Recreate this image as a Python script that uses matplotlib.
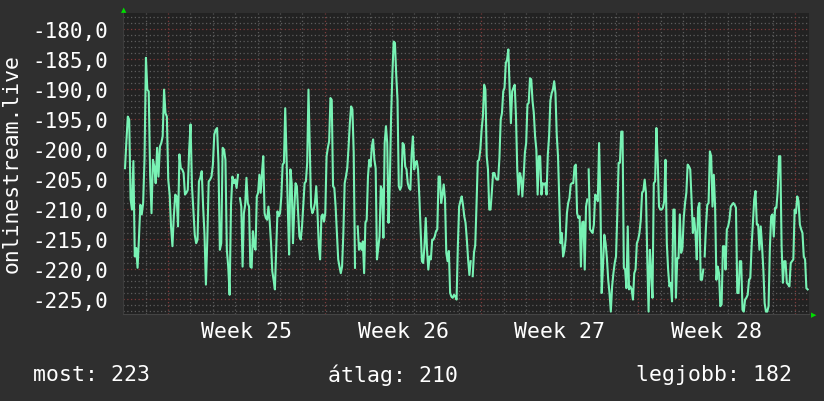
import numpy as np
import matplotlib
matplotlib.use("Agg")
import matplotlib.pyplot as plt
from matplotlib.ticker import FuncFormatter, MultipleLocator

# ---- data (time in days from start of Week 25) ----
seg_times = [(-1.920, 3.126), (3.216, 8.352), (8.473, 13.519),
             (13.609, 18.727), (18.789, 23.908), (23.970, 28.571)]

seg1 = [-203.2, -198.7, -194.6, -195.1, -208.4, -210.1, -202.0, -217.9, -216.5, -219.8, -214.8, -209.3,
        -210.9, -209.0, -201.5, -184.8, -190.1, -190.4, -204.3, -210.7, -201.8, -202.9, -205.7, -199.8,
        -204.6, -199.6, -199.0, -197.9, -190.1, -194.0, -194.6, -205.1, -207.6, -212.9, -216.2, -211.2,
        -207.6, -207.9, -212.9, -200.9, -203.2, -203.4, -204.0, -207.6, -207.3, -206.8, -200.1, -195.9,
        -206.2, -210.1, -214.3, -215.7, -215.1, -205.4, -204.8, -203.7, -209.6, -214.3, -222.6, -215.1,
        -205.4, -205.1, -204.6, -202.6, -197.6, -196.8, -196.5, -202.3, -216.8, -215.7, -199.8, -200.1,
        -201.8, -216.8, -219.6, -224.3, -209.3, -204.6, -205.7, -205.1, -206.5, -204.3]
seg2 = [-208.2, -209.6, -219.6, -210.7, -209.3, -204.8, -209.0, -209.6, -219.6, -219.8, -213.7, -216.2,
        -216.8, -207.9, -207.3, -204.3, -207.3, -204.0, -201.2, -210.7, -211.5, -211.8, -209.6, -212.1,
        -215.7, -220.4, -221.8, -223.4, -216.8, -210.4, -211.2, -210.7, -207.9, -202.6, -202.3, -193.2,
        -201.2, -209.8, -217.6, -203.4, -205.7, -215.7, -210.1, -205.7, -206.2, -210.7, -214.6, -215.1,
        -212.9, -209.3, -205.7, -205.4, -202.3, -190.1, -199.6, -209.6, -210.7, -210.1, -209.0, -206.2,
        -210.7, -216.2, -218.4, -211.2, -210.9, -212.1, -210.7, -201.2, -199.8, -198.7, -191.5, -191.8,
        -206.2, -206.5, -209.6, -214.0, -218.4, -219.6, -220.7, -219.6, -214.0, -205.7, -204.6, -203.2,
        -199.8, -195.7, -192.9, -193.4, -200.6, -219.8]
seg3 = [-212.9, -216.8, -215.7, -216.8, -215.4, -220.7, -212.3, -211.8, -204.6, -201.8, -202.9, -199.6,
        -198.4, -201.8, -203.2, -218.4, -216.5, -214.6, -206.2, -206.8, -214.8, -199.0, -196.2, -199.0,
        -212.3, -205.7, -194.6, -187.6, -182.1, -182.3, -187.6, -191.8, -206.2, -206.8, -206.2, -199.0,
        -199.3, -202.9, -203.4, -205.7, -206.5, -206.8, -200.9, -197.9, -203.4, -202.3, -202.0, -203.4,
        -207.9, -213.4, -218.7, -219.0, -216.2, -211.5, -216.8, -220.1, -217.9, -218.4, -215.1, -215.1,
        -214.6, -213.7, -213.4, -204.6, -204.6, -209.0, -207.6, -205.9, -208.4, -217.3, -218.7, -217.0,
        -224.0, -224.6, -224.8, -224.3, -224.6, -225.1, -216.2, -209.6, -208.7, -207.9, -209.3, -211.2,
        -212.3, -215.1, -218.4, -221.0, -218.7]
seg4 = [-221.2, -217.3, -216.0, -209.3, -202.0, -201.8, -200.1, -196.8, -194.6, -189.3, -190.1, -201.2,
        -203.4, -210.1, -210.1, -207.3, -204.0, -204.0, -204.8, -205.1, -205.1, -201.5, -195.1, -194.0,
        -190.4, -189.8, -185.7, -185.1, -183.4, -189.8, -195.7, -190.4, -189.8, -189.3, -194.6, -203.4,
        -207.6, -204.0, -204.8, -207.9, -204.6, -200.6, -199.0, -192.6, -192.3, -188.2, -188.4, -192.0,
        -194.0, -197.9, -200.1, -207.6, -201.2, -201.2, -207.6, -205.7, -205.9, -205.7, -207.6, -200.9,
        -197.9, -192.0, -190.7, -190.1, -188.7, -190.7, -197.6, -201.2, -208.4, -215.7, -214.0, -217.9,
        -217.0, -215.1, -210.7, -209.0, -208.2, -205.9, -205.7, -205.7, -202.9, -202.6, -210.7, -211.5,
        -211.2, -219.6, -212.3, -212.1, -220.1, -209.6, -208.4]
seg5 = [-203.4, -213.4, -213.7, -214.0, -212.6, -207.6, -207.9, -208.7, -199.0, -208.4, -224.0, -219.6,
        -214.3, -215.7, -218.2, -221.8, -224.0, -227.1, -222.9, -220.7, -219.0, -217.9, -210.7, -202.3,
        -202.3, -197.1, -197.1, -219.8, -220.1, -223.2, -212.9, -223.4, -222.9, -223.4, -225.1, -220.7,
        -220.1, -215.7, -215.1, -214.0, -211.8, -207.3, -207.0, -205.1, -207.3, -218.4, -227.1, -216.8,
        -220.7, -224.8, -205.7, -205.4, -196.5, -201.8, -209.6, -210.1, -210.1, -209.8, -208.7, -201.8,
        -215.7, -220.1, -222.9, -222.3, -225.4, -210.1, -210.1, -224.8, -218.2, -218.2, -210.9, -217.3,
        -216.5, -211.5, -209.0, -207.3, -202.6, -202.9, -203.4, -208.4, -214.0, -211.5, -214.0, -218.4,
        -209.8, -209.0, -221.8, -221.8, -220.1]
seg6 = [-217.9, -212.9, -209.3, -209.0, -200.4, -201.2, -209.6, -204.3, -209.6, -221.8, -219.6, -220.7,
        -226.2, -225.9, -216.2, -216.2, -220.1, -213.4, -212.9, -211.8, -209.6, -209.3, -209.0, -209.3,
        -209.8, -224.0, -224.0, -218.7, -218.7, -226.8, -227.1, -225.1, -224.8, -224.3, -221.8, -221.5,
        -216.2, -212.3, -208.4, -207.0, -212.6, -212.6, -216.8, -212.9, -216.2, -220.1, -225.7, -227.1,
        -227.1, -226.2, -216.5, -211.2, -210.9, -214.6, -209.8, -209.8, -207.0, -201.2, -201.2, -216.2,
        -222.3, -218.7, -218.7, -222.3, -222.6, -222.9, -219.0, -218.7, -218.4, -210.1, -210.7, -207.9,
        -208.7, -212.6, -213.4, -214.0, -217.9, -218.4, -223.2, -223.4]
segments = [seg1, seg2, seg3, seg4, seg5, seg6]

week_labels = ["Week 25", "Week 26", "Week 27", "Week 28"]
week_starts = [0, 7, 14, 21]
ylabel = "onlinestream.live"
legend_texts = ["most: 223", "átlag: 210", "legjobb: 182"]

# ---- style ----
BG = "#2f2f2f"
PLOT_BG = "#222222"
MINOR = "#5c5c5c"
MAJOR = "#803a3a"
LINE = "#78f2b4"
TXT = "#ffffff"
FONT = "DejaVu Sans Mono"

fig = plt.figure(figsize=(8.24, 4.02), dpi=100, facecolor=BG)
ax = fig.add_axes([123 / 824, 1 - 315 / 402, 686 / 824, 301 / 402])
ax.set_facecolor(PLOT_BG)

xmin, xmax = -2.01, 28.63
ymin, ymax = -227.5, -177.33
ax.set_xlim(xmin, xmax)
ax.set_ylim(ymin, ymax)

# grid
for v in np.arange(-227, -177, 1.0):
    major = (v % 5 == 0)
    ax.axhline(v, color=MAJOR if major else MINOR, lw=0.9, ls=(0, (1, 2)), zorder=1)
for d in range(-1, 29):
    major = (d % 7 == 0)
    ax.axvline(d, color=MAJOR if major else MINOR, lw=0.9, ls=(0, (1, 2)), zorder=1)

# series
for (t0, t1), vals in zip(seg_times, segments):
    t = np.linspace(t0, t1, len(vals))
    ax.plot(t, vals, color=LINE, lw=1.5, zorder=3)

# axes
ax.yaxis.set_major_locator(MultipleLocator(5))
ax.yaxis.set_major_formatter(FuncFormatter(lambda v, p: f"{v:.1f}".replace(".", ",")))
ax.set_xticks([w + 3.5 for w in week_starts])
ax.set_xticklabels(week_labels)
ax.tick_params(axis="both", length=0, colors=TXT)
ax.tick_params(axis="y", pad=11, labelsize=15)
ax.tick_params(axis="x", pad=5, labelsize=15.5)
for lab in ax.get_xticklabels() + ax.get_yticklabels():
    lab.set_fontfamily(FONT)
for s in ["top", "right"]:
    ax.spines[s].set_visible(False)
ax.spines["left"].set_color("#3c3c3c")
ax.spines["bottom"].set_color("#444444")

fig.text(12 / 824, 1 - 164 / 402, ylabel, rotation=90, ha="center", va="center",
         color=TXT, fontsize=15.4, fontfamily=FONT)

# arrows
fig.text(124 / 824, 1 - 10 / 402, "▲", color="#00dd00", fontsize=5, ha="center", va="center")
fig.text(814 / 824, 1 - 315 / 402, "▶", color="#00dd00", fontsize=5, ha="center", va="center")

# legend line
ly = 1 - 375 / 402
fig.text(33 / 824, ly, legend_texts[0], color=TXT, fontsize=15.5, fontfamily=FONT, ha="left", va="center")
fig.text(393 / 824, ly, legend_texts[1], color=TXT, fontsize=15.5, fontfamily=FONT, ha="center", va="center")
fig.text(792 / 824, ly, legend_texts[2], color=TXT, fontsize=15.5, fontfamily=FONT, ha="right", va="center")

fig.savefig("out.png", dpi=100, facecolor=BG)
